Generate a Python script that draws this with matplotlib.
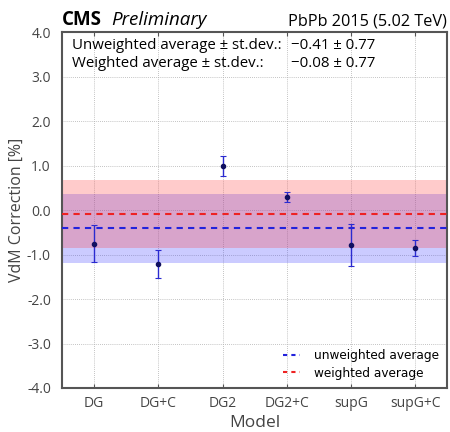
import numpy as np
import matplotlib
matplotlib.use('Agg')
import matplotlib.pyplot as plt

# values
models = ['DG', 'DG+C', 'DG2', 'DG2+C', 'supG', 'supG+C']
corrections = [-0.75, -1.21, 1.00, 0.30, -0.79, -0.85]
errors = [0.41, 0.32, 0.22, 0.12, 0.47, 0.18]
unweighted_avg = -0.41
weighted_avg = -0.08
std_dev = 0.77
y_ticks = [4.0, 3.0, 2.0, 1.0, 0.0, -1.0, -2.0, -3.0, -4.0]

plt.rcParams['font.family'] = ['Open Sans', 'DejaVu Sans']

fig = plt.figure(figsize=(4.5, 4.32), dpi=100)
ax = fig.add_axes([0.1378, 0.1019, 0.8566, 0.8229])

x = np.arange(len(models))

# bands for +- st.dev.
ax.axhspan(unweighted_avg - std_dev, unweighted_avg + std_dev, color='#3333ff', alpha=0.25, lw=0, zorder=1)
ax.axhspan(weighted_avg - std_dev, weighted_avg + std_dev, color='#ff3333', alpha=0.25, lw=0, zorder=1)

ax.axhline(unweighted_avg, color='#2222dd', ls=(0, (3, 2.5)), lw=1.5, zorder=3, label='unweighted average')
ax.axhline(weighted_avg, color='#ee2222', ls=(0, (3, 2.5)), lw=1.5, zorder=3, label='weighted average')

ax.errorbar(x, corrections, yerr=errors, fmt='o', ms=3, color='#101060', ecolor='#2a2ad0',
            elinewidth=1.0, capsize=2.5, capthick=0.8, zorder=4)

ax.set_xlim(-0.5, len(models) - 0.5)
ax.set_ylim(-4.0, 4.0)
ax.set_xticks(x)
ax.set_xticklabels(models, fontsize=10)
ax.set_yticks(y_ticks)
ax.set_yticklabels(['%.1f' % v for v in y_ticks], fontsize=10, color='#444444')
ax.tick_params(axis='x', direction='in', length=3, top=True, colors='#555555', labelcolor='#444444', pad=6)
ax.tick_params(axis='y', length=0, pad=8)
ax.grid(True, color='#b0b0b0', ls=(0, (1, 1.5)), lw=0.6, zorder=0)
ax.set_axisbelow(True)
for s in ax.spines.values():
    s.set_color('#555555')
    s.set_linewidth(1.5)

ax.set_xlabel('Model', fontsize=12.5, color='#444444', labelpad=3)
ax.set_ylabel('VdM Correction [%]', fontsize=11.5, color='#444444')
ax.yaxis.set_label_coords(-0.097, 0.5)

# header
fig.text(0.1378, 0.942, 'CMS', fontsize=13.5, fontweight='bold', ha='left', va='baseline')
fig.text(0.247, 0.942, 'Preliminary', fontsize=13.5, style='italic', ha='left', va='baseline')
fig.text(0.994, 0.942, 'PbPb 2015 (5.02 TeV)', fontsize=11.7, ha='right', va='baseline')

ax.text(0.027, 0.985, 'Unweighted average \u00b1 st.dev.:', transform=ax.transAxes, fontsize=10.8, va='top')
ax.text(0.027, 0.935, 'Weighted average \u00b1 st.dev.:', transform=ax.transAxes, fontsize=10.8, va='top')
ax.text(0.593, 0.985, '\u2212%.2f \u00b1 %.2f' % (-unweighted_avg, std_dev), transform=ax.transAxes, fontsize=10.8, va='top')
ax.text(0.593, 0.935, '\u2212%.2f \u00b1 %.2f' % (-weighted_avg, std_dev), transform=ax.transAxes, fontsize=10.8, va='top')

leg = ax.legend(loc='lower right', frameon=False, handlelength=1.4, handletextpad=1.2,
                labelspacing=0.35, prop={'family': 'DejaVu Sans', 'size': 8.7}, borderaxespad=0.3)
for h in leg.get_lines():
    h.set_linestyle((0, (2, 2)))

fig.savefig('out.png', dpi=100)
